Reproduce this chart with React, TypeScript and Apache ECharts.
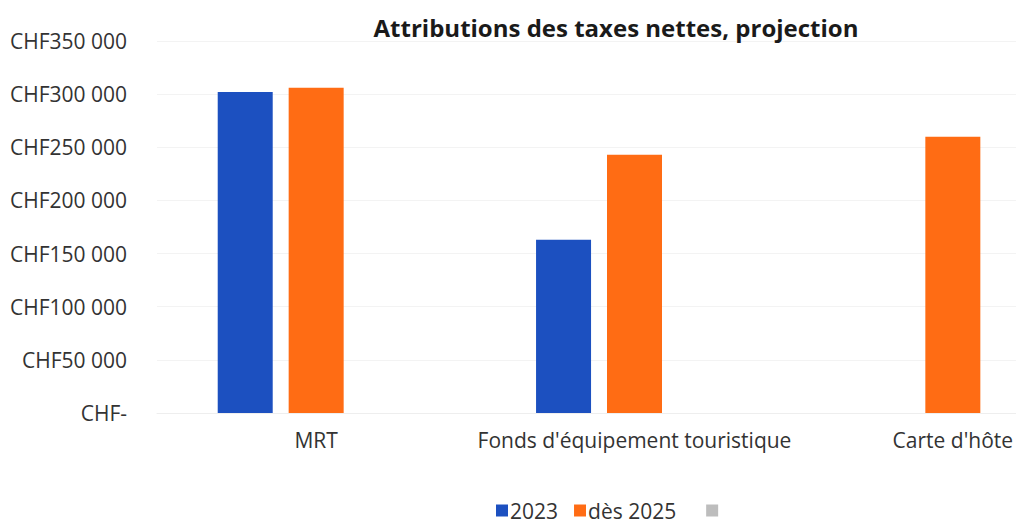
import React, { useEffect, useRef } from "react";
import * as echarts from "echarts";

const categories = ["MRT", "Fonds d'équipement touristique", "Carte d'hôte"];
const series2023 = [302000, 163000, null];
const series2025 = [306000, 243000, 260000];
const seriesEmpty: (number | null)[] = [null, null, null];
const seriesNames = ["2023", "dès 2025", " "];
const yTicks = [0, 50000, 100000, 150000, 200000, 250000, 300000, 350000];

const FONT = "'Open Sans', 'Noto Sans', sans-serif";

function fmt(v: number): string {
  if (v === 0) return "CHF-";
  const s = String(Math.round(v));
  return "CHF" + s.replace(/\B(?=(\d{3})+(?!\d))/g, " ");
}

export default function App() {
  const ref = useRef<HTMLDivElement>(null);
  useEffect(() => {
    if (!ref.current) return;
    const chart = echarts.init(ref.current, undefined, { renderer: "svg" });
    chart.setOption({
      animation: false,
      backgroundColor: "#ffffff",
      title: {
        text: "Attributions des taxes nettes, projection",
        left: 611,
        textAlign: "center",
        top: 10,
        textStyle: { fontFamily: FONT, fontSize: 24, fontWeight: "bold", color: "#1a1a1a" },
      },
      legend: {
        left: 496,
        top: 500,
        itemWidth: 12,
        itemHeight: 12,
        itemGap: 16,
        icon: "rect",
        padding: 0,
        data: seriesNames.map((n, i) => ({
          name: n,
          itemStyle: i === 2 ? { color: "#bdbdbd" } : undefined,
        })),
        formatter: (name: string) => (name === seriesNames[1] ? "{b|" + name + "}" : name),
        textStyle: {
          fontFamily: FONT,
          fontSize: 21,
          lineHeight: 21,
          color: "#333",
          padding: [0, 0, 0, -3],
          rich: { b: { fontFamily: FONT, fontSize: 21, lineHeight: 21, color: "#333", padding: [0, 14, 0, 0] } },
        },
      },
      grid: { left: 157, right: 8, top: 41, bottom: 111, containLabel: false },
      xAxis: {
        type: "category",
        data: categories,
        axisTick: { show: false },
        axisLine: { show: true, lineStyle: { color: "#eeeeee" } },
        axisLabel: { fontFamily: FONT, fontSize: 21, color: "#333", margin: 16, interval: 0 },
      },
      yAxis: {
        type: "value",
        min: yTicks[0],
        max: yTicks[yTicks.length - 1],
        interval: yTicks[1] - yTicks[0],
        axisLine: { show: false },
        axisTick: { show: false },
        splitLine: { lineStyle: { color: "#f3f3f3" } },
        axisLabel: { fontFamily: FONT, fontSize: 21, color: "#333", margin: 30, formatter: fmt },
      },
      series: [
        {
          name: seriesNames[0],
          type: "bar",
          data: series2023,
          barWidth: 55,
          barGap: "29%",
          itemStyle: { color: "#1c50c0" },
        },
        {
          name: seriesNames[1],
          type: "bar",
          data: series2025,
          barWidth: 55,
          barGap: "29%",
          itemStyle: { color: "#ff6c14" },
        },
        {
          name: seriesNames[2],
          type: "bar",
          data: seriesEmpty,
          barWidth: 55,
          barGap: "29%",
          itemStyle: { color: "#bdbdbd" },
        },
      ],
    });
    return () => chart.dispose();
  }, []);
  return (
    <div
      style={{
        position: "fixed",
        left: 0,
        top: 0,
        width: 1016,
        height: 524,
        overflow: "hidden",
        background: "#fff",
      }}
    >
      <div ref={ref} style={{ width: 1120, height: 524 }} />
    </div>
  );
}
